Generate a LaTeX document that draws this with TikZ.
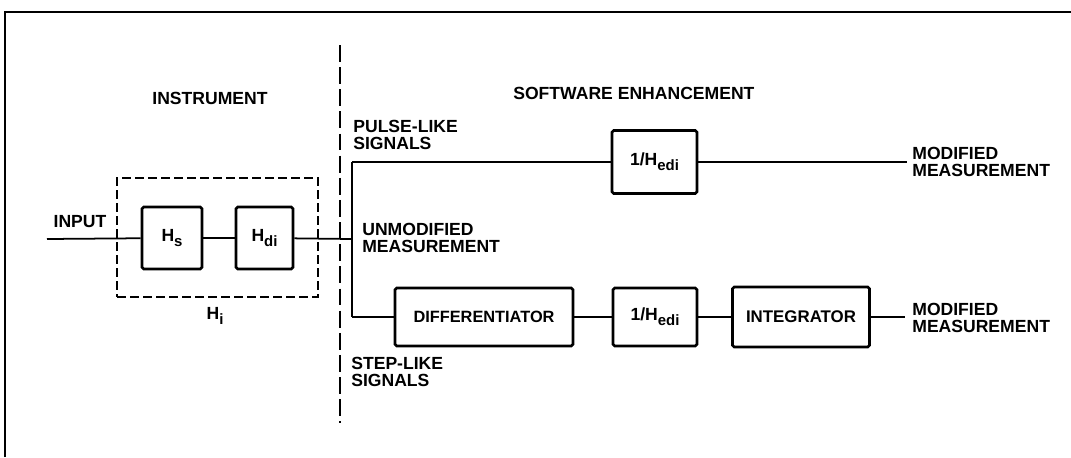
\documentclass[tikz,border=0pt]{standalone}
\usepackage{fontspec}
\setmainfont{Liberation Sans}
\usetikzlibrary{positioning}
\usetikzlibrary{calc}

\newcommand{\lowsub}[1]{\raisebox{-0.55ex}{\fontsize{8.5}{8.5}\selectfont #1}}

\begin{document}
\begin{tikzpicture}[x=0.02cm, y=-0.02cm,
  font=\bfseries\fontsize{10}{9.8}\selectfont,
  blockbox/.style={draw, line width=1.5pt, rounded corners=1pt, inner sep=0pt},
  wire/.style={line width=1pt},
  txt/.style={align=left, anchor=west, inner sep=0pt}]
\useasboundingbox (0,0) rectangle (1071,457);

%frame
\draw[line width=1pt] (5,457) -- (5,12) -- (1071,12);

%divider between instrument and software
\draw[line width=1.3pt, dash pattern=on 9.6pt off 3pt] (340,45) -- (340,423);

%instrument
\node[draw, line width=1.2pt, dash pattern=on 5pt off 2.4pt, minimum width=4.02cm, minimum height=2.38cm] (instr) at (217.5,237.5) {};
\node[blockbox, minimum width=1.2cm, minimum height=1.24cm] (hs) at (172,238) {H\lowsub{s}};
\node[blockbox, minimum width=1.14cm, minimum height=1.24cm] (hdi) at (264.5,238) {H\lowsub{di}};
\node (instrlbl) at (210,98) {INSTRUMENT};
\node (inputlbl) at (80,222) {INPUT};
\node (hilbl) at (215,316) {H\lowsub{i}};
\coordinate (in) at (47,239);

%branch points
\coordinate (split) at (352,239);
\coordinate (uptap) at (352,162);
\coordinate (downtap) at (352,317);

%software
\node[txt] (softlbl) at (513,93) {SOFTWARE ENHANCEMENT};
\node[txt] (pulselbl) at (353,135) {PULSE-LIKE\\SIGNALS};
\node[txt] (unmodlbl) at (362,238) {UNMODIFIED\\MEASUREMENT};
\node[txt] (steplbl) at (351,372) {STEP-LIKE\\SIGNALS};

%upper path
\node[blockbox, minimum width=1.7cm, minimum height=1.26cm] (pedi) at (654.5,162) {1/H\lowsub{edi}};
\coordinate (upend) at (907,162);
\node[txt] (modup) at (912,162) {MODIFIED\\MEASUREMENT};

%lower path
\node[blockbox, minimum width=3.56cm, minimum height=1.16cm, font=\bfseries\fontsize{9.3}{9.3}\selectfont] (diff) at (484,317) {DIFFERENTIATOR};
\node[blockbox, minimum width=1.68cm, minimum height=1.16cm] (sedi) at (655,317) {1/H\lowsub{edi}};
\node[blockbox, minimum width=2.74cm, minimum height=1.2cm, font=\bfseries\fontsize{9.6}{9.6}\selectfont] (integ) at (801,317) {INTEGRATOR};
\coordinate (downend) at (905,317);
\node[txt] (moddown) at (912,318) {MODIFIED\\MEASUREMENT};

%wires
\draw[wire] (in) -- (hs);
\draw[wire] (hs) -- (hdi);
\draw[wire] (hdi) -- (split);
\draw[wire] (uptap) -- (downtap);
\draw[wire] (uptap) -- (pedi);
\draw[wire] (pedi) -- (upend);
\draw[wire] (downtap) -- (diff);
\draw[wire] (diff) -- (sedi);
\draw[wire] (sedi) -- (integ);
\draw[wire] (integ) -- (downend);

\end{tikzpicture}
\end{document}
